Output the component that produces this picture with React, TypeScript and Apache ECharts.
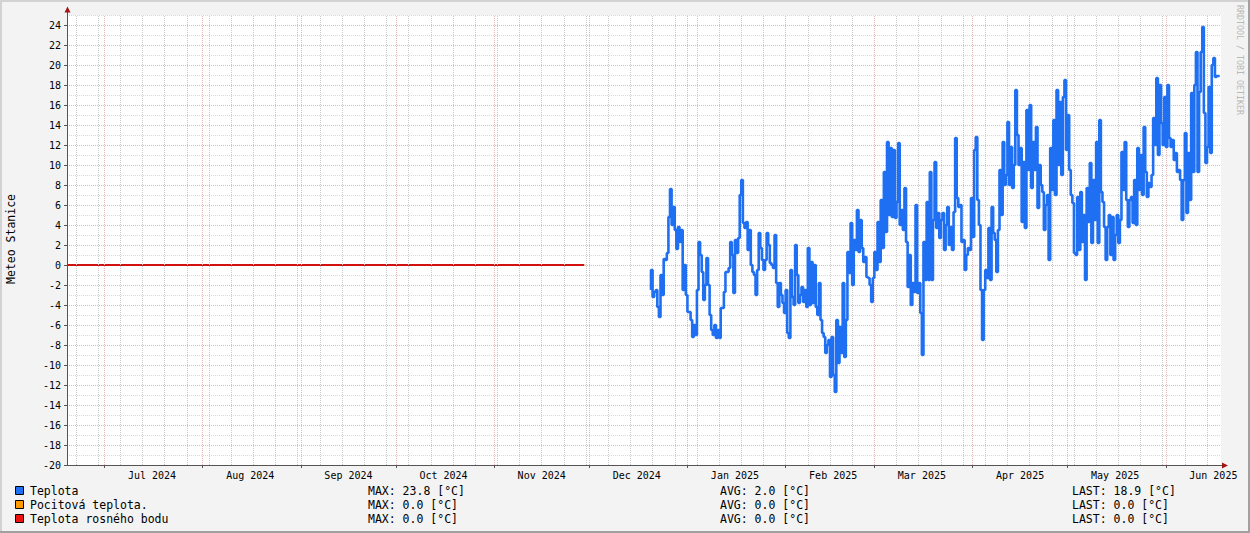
import React, { useEffect, useRef } from "react";
import * as echarts from "echarts";

const MONTH_NAMES = ["Jan", "Feb", "Mar", "Apr", "May", "Jun", "Jul", "Aug", "Sep", "Oct", "Nov", "Dec"];

const AXIS_START = new Date(2024, 5, 19, 4, 0).getTime();
const AXIS_END = new Date(2025, 5, 18, 10, 0).getTime();

const Y_MIN = -20;
const Y_MAX = 25;

// Teplota, 12-hour steps starting at TEPLOTA_START
const TEPLOTA_START = new Date(2024, 11, 20, 12, 0).getTime();
const TEPLOTA_STEP_MS = 12 * 3600 * 1000;
const teplota: number[] = [
  -2.5, -0.5, -3.2, -2.7, -2.5, -4.2, -5.2, -1.0, -3.0, 0.6,
  0.5, 1.2, 4.8, 7.6, 4.0, 5.8, 3.5, 1.6, 3.8, 2.3,
  3.5, -2.5, 0.0, -3.0, -4.7, -4.7, -5.5, -7.2, -6.0, -7.0,
  -2.5, 2.3, 1.0, -0.7, -3.5, -2.0, 0.7, -2.0, -5.0, -6.5,
  -7.0, -6.0, -7.3, -6.5, -7.3, -4.3, -4.3, -2.7, -0.7, -0.7,
  -0.3, 2.3, 1.0, -2.8, 2.5, 1.2, 2.7,
  7.0, 8.5, 4.2, 3.7, 4.3, 1.5, 3.5, 0.0, -0.7, -1.0,
  -3.0, -0.5, 3.2, 1.7, 0.5, -0.5, 0.5, 3.2, 2.0, 0.2,
  0.0, -0.3, 3.0, -1.8, -4.2, -1.8, -3.0, -3.8, -4.8, -2.5,
  -6.8, -7.3, -0.5, -3.2, -4.0, 2.0, -1.0, -3.8, -3.0, -2.2, -3.7,
  -2.5, -4.2, 1.7, -4.0, 0.3, -3.8, 0.0, -4.2, -5.0, -1.8,
  -5.5, -6.8, -7.2, -8.8, -8.0, -7.5, -11.2, -7.2, -11.0, -12.7, -5.5,
  -9.8, -6.2, -8.8, -1.8, -9.2, -5.5, 1.3, -0.8, 4.2, -2.0,
  2.5, 1.5, 5.5, 1.3, 4.5, 1.7, 0.3, 0.8, -1.2, -1.3,
  -2.0, -3.7, -1.3, 1.3, -0.5, 4.3, 0.3, 6.5, 1.7, 9.3,
  3.3, 12.3, 5.0, 11.7, 4.8, 11.5, 4.7, 6.3, 12.2, 4.0,
  5.5, 3.5, 7.7, 2.3, -2.2, 1.0, -4.0, -1.8, -2.7, 6.0,
  -2.8, -1.8, -4.8, -9.0, 2.3, -1.5, 6.3, -1.5,
  9.3, -1.5, 4.5, 10.3, 3.7, 5.2, 2.7, 4.5, 5.2, 1.5, 4.0,
  5.8, 2.0, 3.8, 1.5, 5.3, 12.7, 6.7, 5.8, 6.0, 2.3,
  2.5, -0.5, 1.0, 1.7, 1.5, 6.7, 2.8, 11.5, 12.8, 6.5,
  4.0, -2.5, -7.5, -2.5, -0.5, -1.3, 3.7, -1.5, 5.8, 3.2,
  2.5, -0.7, 3.5, 9.5, 5.0, 12.3, 8.0, 9.0, 14.3, 8.0, 11.8,
  7.7, 10.0, 17.5, 13.0, 10.0, 11.7, 4.3,
  10.3, 3.7, 15.5, 9.5, 16.0, 7.7, 12.3, 9.5, 13.8, 5.7,
  10.0, 8.0, 7.3, 3.5, 6.0, 7.0, 0.5, 11.7, 7.5, 14.5, 7.0,
  17.5, 10.0, 16.3, 9.0, 16.8, 18.5, 11.5, 15.0, 9.5, 7.0,
  6.2, 1.2, 1.0, 6.8, 1.5, 7.3, 2.3, 5.0, -1.5, 7.7,
  4.3, 10.2, 2.2, 8.5, 4.5, 12.3, 2.2, 14.5, 7.3, 6.3,
  3.8, 0.5, 3.8, 5.0, 1.0, 4.8, 0.5, 3.0, 5.0, 2.2,
  4.5, 11.3, 7.5, 12.3, 6.5, 3.8, 6.5, 6.8, 4.2, 8.5,
  4.0, 11.7, 7.5, 11.0, 7.0, 13.8, 9.3, 6.8, 8.2, 7.8, 9.0,
  14.7, 12.0, 18.7, 11.0, 18.0, 14.2, 12.0, 16.8, 11.8, 18.0,
  12.7, 11.8, 12.5, 10.5, 11.2, 9.3, 9.5, 8.5, 4.5, 8.5,
  13.2, 5.2, 11.2, 6.5, 17.2, 9.3, 18.0, 21.3, 9.3, 17.3,
  21.3, 23.8, 15.2, 10.2, 11.8, 17.8, 11.2, 20.0, 20.7, 18.8, 18.9, 18.9,
];

// Pocitová teplota and Teplota rosného bodu: flat 0 from start until end of Nov 2024
const zeroSeriesTimes = [AXIS_START, new Date(2024, 10, 29, 10, 0).getTime()];
const pocitovaTeplota = [0.0, 0.0];
const rosnyBod = [0.0, 0.0];

const legendNames = ["Teplota", "Pocitová teplota.", "Teplota rosného bodu"];
const legendColors = ["#1f6ff2", "#ff9a00", "#ee1111"];
const legendMax = ["23.8", "0.0", "0.0"];
const legendAvg = ["2.0", "0.0", "0.0"];
const legendLast = ["18.9", "0.0", "0.0"];

const Y_TITLE = "Meteo Stanice";
const WATERMARK = "RRDTOOL / TOBI OETIKER";

const MONO = '"DejaVu Sans Mono", monospace';

function monthStarts(): number[] {
  const out: number[] = [];
  for (let k = 0; k < 12; k++) out.push(new Date(2024, 6 + k, 1).getTime());
  return out;
}
function midMonths(): number[] {
  const out: number[] = [];
  for (let k = 0; k < 12; k++) out.push(new Date(2024, 6 + k, 16).getTime());
  return out;
}
function weekLines(): number[] {
  const out: number[] = [];
  for (let k = 0; ; k++) {
    const t = new Date(2024, 5, 22 + 7 * k).getTime();
    if (t > AXIS_END) break;
    out.push(t);
  }
  return out;
}

export default function App() {
  const ref = useRef<HTMLDivElement>(null);

  useEffect(() => {
    if (!ref.current) return;
    const chart = echarts.init(ref.current, undefined, { renderer: "svg" });

    const mStarts = monthStarts();
    const weeks = weekLines();

    const gridLineData: any[] = [];
    weeks.forEach((t) =>
      gridLineData.push({ xAxis: t, lineStyle: { color: "#c8c8c8", type: [1, 1], width: 1 } })
    );
    mStarts.forEach((t) =>
      gridLineData.push({ xAxis: t, lineStyle: { color: "#eab4b4", type: [1, 1], width: 1 } })
    );

    const teplotaData = teplota.map((v, i) => [TEPLOTA_START + i * TEPLOTA_STEP_MS, v]);
    const pocitovaData = pocitovaTeplota.map((v, i) => [zeroSeriesTimes[i], v]);
    const rosnyData = rosnyBod.map((v, i) => [zeroSeriesTimes[i], v]);

    const graphics: any[] = [
      { type: "rect", shape: { x: 0, y: 0, width: 1250, height: 2 }, style: { fill: "#d2d2d2" }, silent: true },
      { type: "rect", shape: { x: 0, y: 0, width: 2, height: 533 }, style: { fill: "#d2d2d2" }, silent: true },
      { type: "rect", shape: { x: 0, y: 531, width: 1250, height: 2 }, style: { fill: "#a0a0a0" }, silent: true },
      { type: "rect", shape: { x: 1248, y: 0, width: 2, height: 533 }, style: { fill: "#a0a0a0" }, silent: true },
      { type: "line", shape: { x1: 67.5, y1: 10, x2: 67.5, y2: 15 }, style: { stroke: "#555", lineWidth: 1 }, silent: true },
      { type: "line", shape: { x1: 1221, y1: 465.5, x2: 1224, y2: 465.5 }, style: { stroke: "#555", lineWidth: 1 }, silent: true },
      { type: "polygon", shape: { points: [[64.5, 12.5], [70.5, 12.5], [67.5, 6.5]] }, style: { fill: "#a31515" }, silent: true },
      { type: "polygon", shape: { points: [[1222, 462.5], [1222, 468.5], [1228, 465.5]] }, style: { fill: "#a31515" }, silent: true },
      {
        type: "text", x: 11, y: 239, rotation: Math.PI / 2,
        style: { text: Y_TITLE, fill: "#000", font: `11.5px ${MONO}`, align: "center", verticalAlign: "middle" },
        silent: true,
      },
      {
        type: "text", x: 1240, y: 5, rotation: -Math.PI / 2,
        style: { text: WATERMARK, fill: "#b8b8b8", font: `8.3px ${MONO}`, align: "left", verticalAlign: "middle" },
        silent: true,
      },
    ];

    legendNames.forEach((name, i) => {
      const cy = 491 + i * 14;
      graphics.push({
        type: "rect",
        shape: { x: 15.5, y: cy - 4.5, width: 8, height: 8 },
        style: { fill: legendColors[i], stroke: "#000", lineWidth: 1 },
        silent: true,
      });
      const txt = (x: number, s: string) => ({
        type: "text", x, y: cy,
        style: { text: s, fill: "#000", font: `11.5px ${MONO}`, align: "left", verticalAlign: "middle" },
        silent: true,
      });
      graphics.push(txt(30, name));
      graphics.push(txt(368, `MAX: ${legendMax[i]} [°C]`));
      graphics.push(txt(720, `AVG: ${legendAvg[i]} [°C]`));
      graphics.push(txt(1072, `LAST: ${legendLast[i]} [°C]`));
    });

    const option: any = {
      animation: false,
      backgroundColor: "#f3f3f3",
      grid: {
        left: 67, right: 29, top: 15, bottom: 68,
        show: true, backgroundColor: "#ffffff", borderWidth: 0,
        containLabel: false,
      },
      xAxis: {
        type: "value",
        min: AXIS_START,
        max: AXIS_END,
        axisLine: { show: true, onZero: false, lineStyle: { color: "#555", width: 1 } },
        axisTick: { show: true, customValues: mStarts, length: 3, lineStyle: { color: "#555" } },
        axisLabel: {
          customValues: midMonths(),
          formatter: (v: number) => {
            const d = new Date(v);
            return `${MONTH_NAMES[d.getMonth()]} ${d.getFullYear()}`;
          },
          fontFamily: MONO,
          fontSize: 10,
          color: "#000",
          margin: 5,
        },
        splitLine: { show: false },
      },
      yAxis: [
        {
          type: "value",
          min: Y_MIN, max: Y_MAX, interval: 1,
          axisLine: { show: false },
          axisTick: { show: false },
          axisLabel: { show: false },
          splitLine: { show: true, lineStyle: { color: ["#eab4b4", "#d8d8d8"], type: [1, 1], width: 1 } },
        },
        {
          type: "value",
          position: "left",
          min: Y_MIN, max: Y_MAX, interval: 2,
          axisLine: { show: true, onZero: false, lineStyle: { color: "#555", width: 1 } },
          axisTick: { show: true, length: 3, lineStyle: { color: "#555" } },
          axisLabel: { showMaxLabel: false, fontFamily: MONO, fontSize: 10, color: "#000", margin: 6 },
          splitLine: { show: false },
        },
      ],
      graphic: graphics,
      series: [
        {
          name: "grid",
          type: "line",
          data: [],
          z: 1,
          silent: true,
          markLine: {
            silent: true,
            symbol: ["none", "none"],
            label: { show: false },
            animation: false,
            data: gridLineData,
          },
        },
        {
          name: legendNames[1],
          type: "line",
          data: pocitovaData,
          showSymbol: false,
          symbol: "none",
          lineStyle: { color: legendColors[1], width: 2 },
          z: 3,
        },
        {
          name: legendNames[2],
          type: "line",
          data: rosnyData,
          showSymbol: false,
          symbol: "none",
          lineStyle: { color: "#d41111", width: 2 },
          z: 4,
        },
        {
          name: legendNames[0],
          type: "line",
          data: teplotaData,
          step: "start",
          showSymbol: false,
          symbol: "none",
          lineStyle: { color: legendColors[0], width: 2.6 },
          z: 5,
        },
      ],
    };

    chart.setOption(option);
    return () => chart.dispose();
  }, []);

  return (
    <div
      ref={ref}
      style={{ position: "fixed", left: 0, top: 0, width: 1250, height: 533 }}
    />
  );
}
